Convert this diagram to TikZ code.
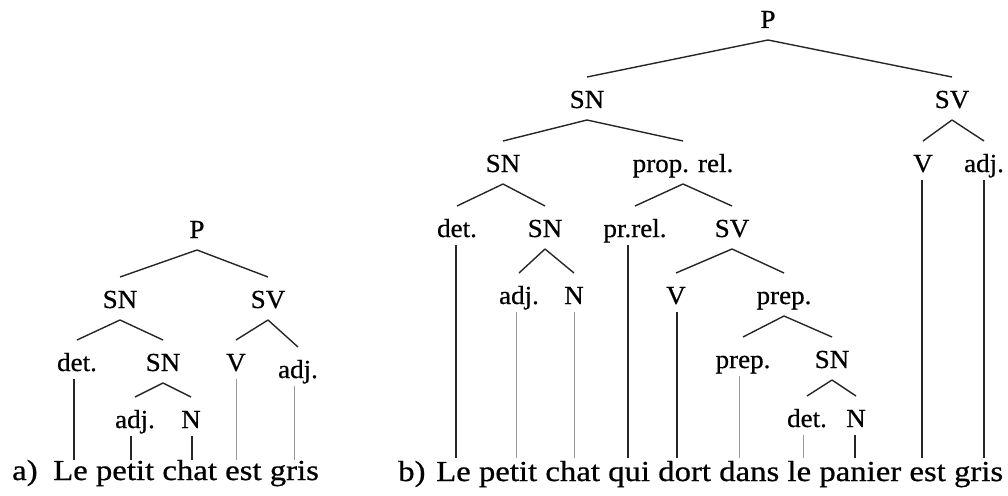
\documentclass[tikz,border=0pt]{standalone}
\usepackage{fontspec}
\setmainfont{Liberation Serif}
\newfontfamily\labfont[FakeStretch=1.04,FakeBold=0.6]{Liberation Serif}
\newfontfamily\sentfont[FakeStretch=1.13,FakeBold=0.7]{Liberation Serif}
\usetikzlibrary{calc}
\tikzset{
  lab/.style={font=\labfont\fontsize{26}{30}\selectfont, inner sep=0pt, anchor=base},
  sent/.style={font=\sentfont\fontsize{29}{34}\selectfont, inner sep=0pt, anchor=base west},
  br/.style={line width=1.4pt, black!85},
  leafdark/.style={line width=1.4pt, black!85},
  leaflight/.style={line width=0.9pt, black!40},
}
\newcommand\treebranch[2]{\draw[br] ($(#1.base)+(0,12)$) -- ($(#2.base)+(0,-31)$);}
\newcommand\leafline[4]{\path (#2.base) ++(#3,8) coordinate (tmpleaf); \draw[#1] (tmpleaf) -- (tmpleaf |- #4);}
\begin{document}
\begin{tikzpicture}[x=1pt,y=-1pt]
\useasboundingbox (0,0) rectangle (1008,495);
% ---------- tree a ----------
\node[lab] (aP) at (197,238) {P};
\node[lab] (aSN) at (120,308) {SN};
\node[lab] (aSV) at (268,308) {SV};
\node[lab] (adet) at (77,371) {det.};
\node[lab] (aSNb) at (163,371) {SN};
\node[lab] (aV) at (236,371) {V};
\node[lab] (aadj) at (298,378) {adj.};
\node[lab] (aadjb) at (135,428) {adj.};
\node[lab] (aN) at (191,428) {N};
\node[sent] (alabel) at (12,480) {a)};
\node[sent] (asent) at (53,480) {Le petit chat est gris};
\coordinate (endA) at (0,460);
\treebranch{aP}{aSN}
\treebranch{aP}{aSV}
\treebranch{aSN}{adet}
\treebranch{aSN}{aSNb}
\treebranch{aSV}{aV}
\treebranch{aSV}{aadj}
\treebranch{aSNb}{aadjb}
\treebranch{aSNb}{aN}
\leafline{leafdark}{adet}{-3}{endA}
\leafline{leafdark}{aadjb}{-4}{endA}
\leafline{leafdark}{aN}{1}{endA}
\leafline{leaflight}{aV}{0}{endA}
\leafline{leaflight}{aadj}{-4}{endA}
% ---------- tree b ----------
\node[lab] (bP) at (768,28) {P};
\node[lab] (bSN) at (587,108) {SN};
\node[lab] (bSV) at (952,108) {SV};
\node[lab] (bSNb) at (503,172) {SN};
\node[lab] (bprel) at (683,172) {prop. rel.};
\node[lab] (bV) at (923,172) {V};
\node[lab] (badj) at (984,172) {adj.};
\node[lab] (bdet) at (457,237) {det.};
\node[lab] (bSNc) at (545,237) {SN};
\node[lab] (bprrel) at (635,237) {pr.rel.};
\node[lab] (bSVb) at (732,237) {SV};
\node[lab] (badjb) at (519,304) {adj.};
\node[lab] (bN) at (574,304) {N};
\node[lab] (bVb) at (676,304) {V};
\node[lab] (bprep) at (784,304) {prep.};
\node[lab] (bprepb) at (743,368) {prep.};
\node[lab] (bSNd) at (832,368) {SN};
\node[lab] (bdetb) at (807,427) {det.};
\node[lab] (bNb) at (856,427) {N};
\node[sent] (blabel) at (398,481) {b)};
\node[sent] (bsent) at (436,481) {Le petit chat qui dort dans le panier est gris};
\coordinate (endB) at (0,458);
\treebranch{bP}{bSN}
\treebranch{bP}{bSV}
\treebranch{bSN}{bSNb}
\treebranch{bSN}{bprel}
\treebranch{bSV}{bV}
\treebranch{bSV}{badj}
\treebranch{bSNb}{bdet}
\treebranch{bSNb}{bSNc}
\treebranch{bprel}{bprrel}
\treebranch{bprel}{bSVb}
\treebranch{bSNc}{badjb}
\treebranch{bSNc}{bN}
\treebranch{bSVb}{bVb}
\treebranch{bSVb}{bprep}
\treebranch{bprep}{bprepb}
\treebranch{bprep}{bSNd}
\treebranch{bSNd}{bdetb}
\treebranch{bSNd}{bNb}
\leafline{leafdark}{bV}{-1}{endB}
\leafline{leafdark}{badj}{0}{endB}
\leafline{leafdark}{bdet}{-1}{endB}
\leafline{leafdark}{bprrel}{-7}{endB}
\leafline{leaflight}{badjb}{-3}{endB}
\leafline{leaflight}{bN}{0}{endB}
\leafline{leafdark}{bVb}{1}{endB}
\leafline{leaflight}{bprepb}{-4}{endB}
\leafline{leaflight}{bdetb}{-4}{endB}
\leafline{leafdark}{bNb}{-1}{endB}
\end{tikzpicture}
\end{document}
